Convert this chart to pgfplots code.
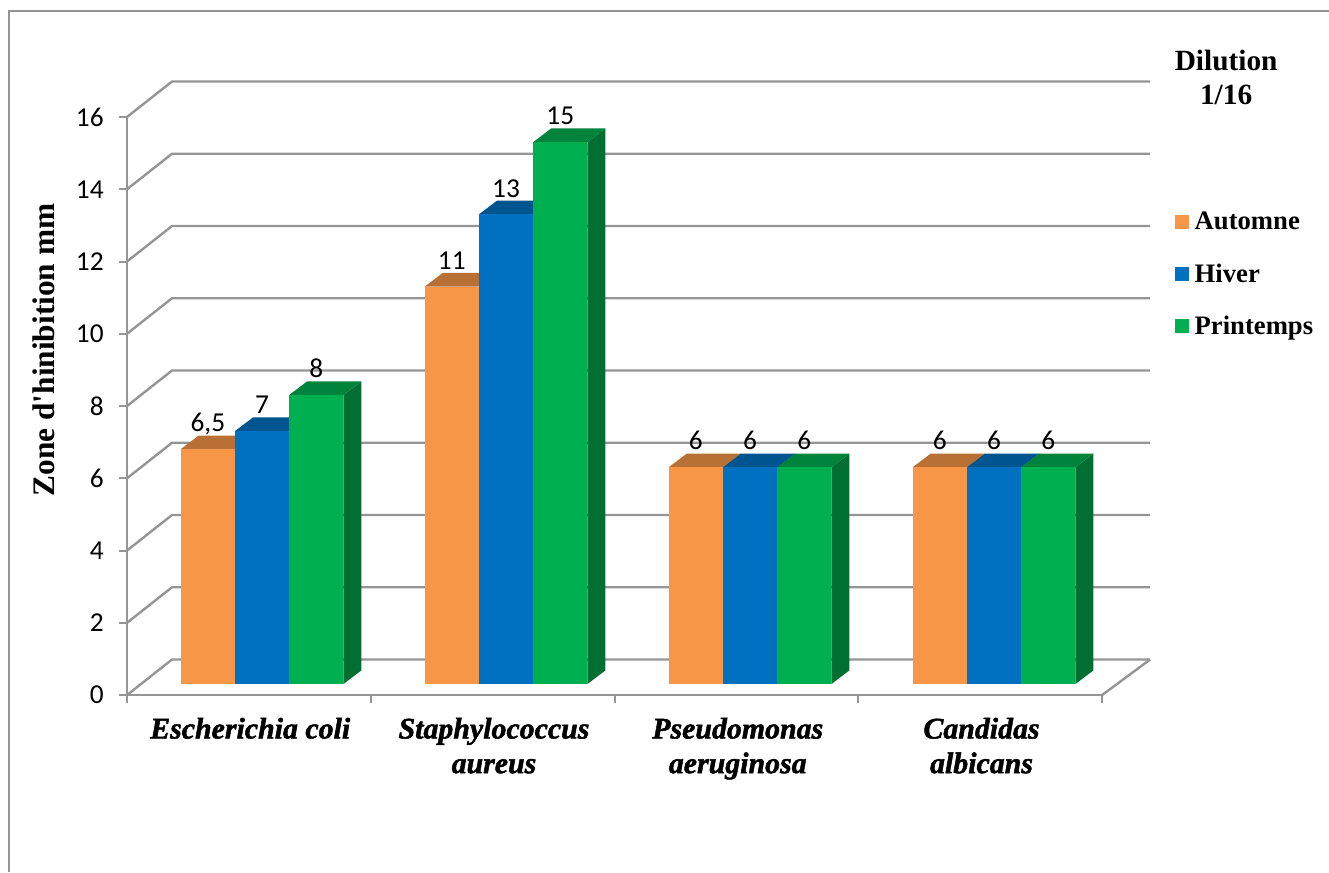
\documentclass[border=0pt]{standalone}
\usepackage{fontspec}
\setmainfont{Liberation Serif}
\newfontfamily\catfont{Liberation Serif}[BoldItalicFeatures={FakeBold=1.6}]
\newfontfamily\calib{Carlito}
\usepackage{pgfplots}
\pgfplotsset{compat=1.18}

\definecolor{gridgray}{HTML}{959595}
\definecolor{orFront}{HTML}{F79646}
\definecolor{orTop}{HTML}{B87035}
\definecolor{blFront}{HTML}{0070C0}
\definecolor{blTop}{HTML}{00548F}
\definecolor{blSide}{HTML}{004A80}
\definecolor{grFront}{HTML}{00B050}
\definecolor{grTop}{HTML}{00843C}
\definecolor{grSide}{HTML}{006F31}

% one prism: left edge, value, printed value, front / top / side colours
\newcommand{\prism}[6]{%
  \pgfmathsetmacro\xl{#1}%
  \pgfmathsetmacro\xr{#1+0.2225}%
  \pgfmathsetmacro\xc{#1+0.11125}%
  \pgfmathsetmacro\xrb{#1+0.2225+0.0738}%
  \pgfmathsetmacro\xlb{#1+0.0738}%
  \pgfmathsetmacro\yb{0.3045}%
  \pgfmathsetmacro\ybb{0.3045+0.379}%
  \pgfmathsetmacro\yt{#2+0.3045}%
  \pgfmathsetmacro\ytb{#2+0.3045+0.379}%
  \addplot[forget plot,draw=none,fill=#6] coordinates {(\xr,\yb)(\xrb,\ybb)(\xrb,\ytb)(\xr,\yt)} --cycle;
  \addplot[forget plot,draw=none,fill=#5] coordinates {(\xl,\yt)(\xr,\yt)(\xrb,\ytb)(\xlb,\ytb)} --cycle;
  \addplot[forget plot,draw=none,fill=#4] coordinates {(\xl,\yb)(\xr,\yb)(\xr,\yt)(\xl,\yt)} --cycle;
  \addplot[forget plot,draw=none,mark=none,nodes near coords={#3},
    every node near coord/.append style={anchor=base,yshift=13pt,inner sep=0pt,text=black,
      font=\fontsize{20.5}{20.5}\selectfont\calib}] coordinates {(\xc,\yt)};
}
% one gridline of the back wall, with its diagonal on the side wall
\newcommand{\wall}[1]{%
  \pgfmathsetmacro\yf{#1}%
  \pgfmathsetmacro\yk{#1+0.983}%
  \addplot[forget plot,gridgray,line width=1.8pt,line join=round] coordinates {(0,\yf)(0.1846,\yk)(4.197,\yk)};
}

\begin{document}
\begin{tikzpicture}
\begin{axis}[
  scale only axis,
  width=731.25pt,height=433.5pt,
  xmin=0,xmax=4,ymin=0,ymax=16,
  clip=false,
  axis x line*=bottom,axis y line*=left,
  axis line style={gridgray,line width=1.8pt},
  tick align=outside,
  major tick length=6pt,
  tick style={gridgray,line width=1.5pt},
  xtick={0,1,2,3,4},
  ytick={0,2,...,16},
  x tick label as interval,
  xticklabels={{Escherichia coli},{Staphylococcus\\aureus},{Pseudomonas\\aeruginosa},{Candidas\\albicans}},
  xticklabel style={align=center,yshift=-7.5pt,xshift=1pt,
    font=\fontsize{22.4}{26}\selectfont\catfont\bfseries\itshape},
  yticklabel style={/pgf/number format/assume math mode=true,xshift=-8pt,
    font=\fontsize{20.5}{20.5}\selectfont\calib},
  ylabel={Zone d\textquotesingle hinibition mm},
  ylabel style={at={(axis description cs:-0.085,0.597)},anchor=center,
    font=\fontsize{23.5}{26}\selectfont\bfseries},
  legend cell align=left,
  legend style={at={(axis cs:4.2995,13.37)},anchor=north west,draw=none,fill=none,
    inner sep=0pt,row sep=23.75pt,font=\fontsize{20}{20}\selectfont\bfseries,
    nodes={inner sep=0pt}},
  legend image code/.code={\fill[#1,draw=none] (0pt,-5.25pt) rectangle (10.5pt,5.25pt);},
]
\addlegendimage{fill=orFront}\addlegendentry{\hspace{4pt}Automne}
\addlegendimage{fill=blFront}\addlegendentry{\hspace{4pt}Hiver}
\addlegendimage{fill=grFront}\addlegendentry{\hspace{4pt}Printemps}

% outer chart frame
\addplot[forget plot,gridgray,line width=1.6pt] coordinates {(-0.4856,-4.9)(-0.4856,18.935)(4.931,18.935)};

% walls
\wall{0}\wall{2}\wall{4}\wall{6}\wall{8}\wall{10}\wall{12}\wall{14}\wall{16}
\addplot[forget plot,gridgray,line width=1.8pt] coordinates {(4,0)(4.197,0.983)};

% Escherichia coli
\prism{0.2203}{6.5}{6,5}{orFront}{orTop}{orTop}
\prism{0.4428}{7}{7}{blFront}{blTop}{blSide}
\prism{0.6653}{8}{8}{grFront}{grTop}{grSide}
% Staphylococcus aureus
\prism{1.2213}{11}{11}{orFront}{orTop}{orTop}
\prism{1.4438}{13}{13}{blFront}{blTop}{blSide}
\prism{1.6663}{15}{15}{grFront}{grTop}{grSide}
% Pseudomonas aeruginosa
\prism{2.2223}{6}{6}{orFront}{orTop}{orTop}
\prism{2.4448}{6}{6}{blFront}{blTop}{blSide}
\prism{2.6673}{6}{6}{grFront}{grTop}{grSide}
% Candidas albicans
\prism{3.2233}{6}{6}{orFront}{orTop}{orTop}
\prism{3.4458}{6}{6}{blFront}{blTop}{blSide}
\prism{3.6683}{6}{6}{grFront}{grTop}{grSide}

\node[align=center,inner sep=0pt,font=\fontsize{22}{25.5}\selectfont\bfseries]
  at (axis cs:4.509,17.1) {Dilution\\1/16};

\coordinate (pagebl) at (axis cs:-0.521,-4.9);
\coordinate (pagetr) at (axis cs:4.931,19.239);
\end{axis}
\pgfresetboundingbox
\path[use as bounding box] (pagebl) rectangle (pagetr);
\end{tikzpicture}
\end{document}
